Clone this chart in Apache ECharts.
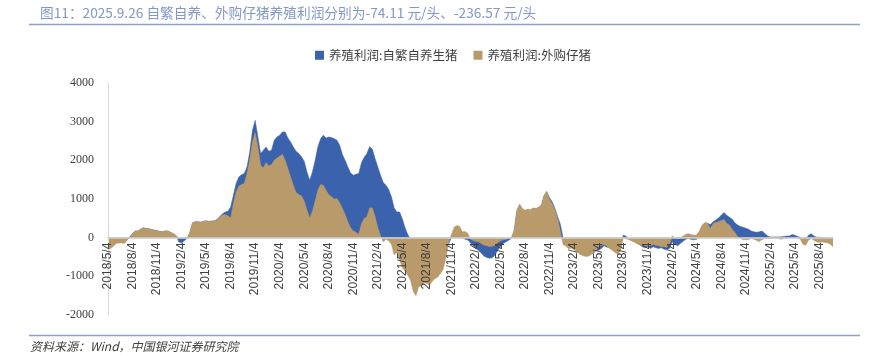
<!DOCTYPE html>
<html>
<head>
<meta charset="utf-8">
<script src="https://cdn.jsdelivr.net/npm/echarts@6/dist/echarts.min.js"></script>
<style>
html,body{margin:0;padding:0;background:#fff;}
#c{width:870px;height:356px;}
</style>
</head>
<body>
<div id="c"></div>
<script>
// Categories: three observation points per month (4th, 14th, 24th), 2018/5/4 .. 2025/9/24
const categories = [];
for (let y = 2018; y <= 2025; y++) {
  for (let m = 1; m <= 12; m++) {
    if (y === 2018 && m < 5) continue;
    if (y === 2025 && m > 9) break;
    for (const d of [4, 14, 24]) categories.push(y + '/' + m + '/' + d);
  }
}

const tickLabels = ['2018/5/4','2018/8/4','2018/11/4','2019/2/4','2019/5/4','2019/8/4','2019/11/4',
  '2020/2/4','2020/5/4','2020/8/4','2020/11/4','2021/2/4','2021/5/4','2021/8/4','2021/11/4',
  '2022/2/4','2022/5/4','2022/8/4','2022/11/4','2023/2/4','2023/5/4','2023/8/4','2023/11/4',
  '2024/2/4','2024/5/4','2024/8/4','2024/11/4','2025/2/4','2025/5/4','2025/8/4'];

const yTicks = [-2000, -1000, 0, 1000, 2000, 3000, 4000];

// 养殖利润:自繁自养生猪 (元/头)
const selfBred = [
-250,-220,-180,-120,-110,-110,-120,-50,20,
110,175,170,220,255,235,230,210,195,185,160,150,175,170,135,100,50,
-110,-140,-80,-20,120,
380,410,410,400,420,435,420,425,435,
470,545,620,665,685,795,1100,1400,1570,1630,1660,1830,2215,2775,3035,2605,2175,2260,2345,2235,2260,
2520,2605,2650,2735,2735,2580,2475,2345,2235,2175,2090,1975,1700,1485,1700,2000,2345,2560,2650,2580,
2605,2590,2560,2520,2390,2150,2000,1830,1675,1615,1640,1660,1940,2080,2175,2355,2285,2045,1830,1615,
1425,1355,1245,1055,770,665,665,480,255,80,
-50,-200,-300,-400,-450,-450,-500,-550,-500,-450,-420,-380,-300,-250,-160,
0,50,60,50,0,-40,-60,-135,-210,-280,-330,-400,-480,-510,-530,-520,-450,-325,-235,-150,-110,-65,-20,
150,690,850,740,700,725,710,760,745,780,830,1080,1190,1030,925,755,540,340,
-20,-100,-150,-180,-220,-260,-300,-330,-350,-370,-380,-410,-340,-325,-280,-210,-245,-250,-280,-320,-350,-300,
65,40,-30,-60,-90,-140,-180,-235,-260,-235,-280,-235,-260,-280,-260,-300,-315,-280,-110,-175,-210,-150,-90,-40,-20,-50,-50,-40,
150,300,380,370,340,410,460,510,580,650,580,530,480,385,330,290,270,245,220,175,150,140,150,170,110,45,20,20,20,20,25,30,40,45,80,65,30,10,
-50,-60,65,100,40,10,10,5,5,-30,-50,-74.11
];

// 养殖利润:外购仔猪 (元/头)
const purchased = [
-320,-280,-220,-150,-135,-135,-150,-65,20,
110,175,170,220,255,235,230,210,195,185,160,150,175,170,135,100,50,
-10,-20,-10,0,120,
380,410,410,400,420,435,420,425,435,
455,530,590,600,565,510,880,1185,1330,1375,1400,1660,2000,2475,2715,2345,1870,1805,1940,1855,1890,
2000,2060,2105,2155,2000,1785,1570,1355,1165,1115,1080,945,710,510,685,945,1225,1375,1355,1225,
1115,1055,995,1010,900,755,600,410,255,175,135,90,365,495,540,770,770,540,255,50,
-110,-40,-80,-175,-450,-385,-580,-780,-865,-970,
-1100,-1400,-1500,-1270,-1245,-1160,-1185,-1225,-1125,-1055,-1020,-925,-815,-520,-120,
80,270,315,295,150,160,110,-40,-75,-90,-110,-150,-195,-210,-235,-220,-195,-125,-80,-55,-40,-20,0,
195,710,865,755,710,735,720,770,755,790,840,1100,1200,990,880,710,495,150,
-185,-215,-290,-270,-315,-365,-425,-460,-480,-485,-450,-390,-325,-235,-195,-175,-220,-280,-325,-385,-425,-350,
-20,-30,-50,-80,-110,-150,-185,-200,-220,-210,-195,-175,-195,-210,-230,-235,-245,-175,50,-20,-30,0,45,90,100,80,65,75,
175,325,390,375,235,365,390,410,445,470,365,330,220,135,30,-20,-50,-55,-50,-20,-40,-75,-100,-50,-20,-20,-20,-10,-15,-25,-40,-25,-15,-5,10,5,-15,-40,
-175,-195,-65,-20,-65,-110,-125,-110,-125,-135,-170,-236.57
];

const chart = echarts.init(document.getElementById('c'), null, {renderer: 'canvas'});
const cjk = '"Noto Sans CJK SC", "Noto Sans", sans-serif';
const gridTop = 83, gridBottom = 41, H = 356;
const zeroOffset = -((H - gridBottom) - (gridTop + (H - gridTop - gridBottom) * 4 / 6));
chart.setOption({
  animation: false,
  backgroundColor: '#ffffff',
  graphic: [
    {type: 'text', left: 40, top: 6, style: {text: '图11：2025.9.26 自繁自养、外购仔猪养殖利润分别为-74.11 元/头、-236.57 元/头', fill: '#8398c6', font: '13.7px ' + cjk}},
    {type: 'line', shape: {x1: 29, y1: 24.5, x2: 860, y2: 24.5}, style: {stroke: '#8ea1ca', lineWidth: 1.5}},
    {type: 'line', shape: {x1: 29, y1: 335.5, x2: 860, y2: 335.5}, style: {stroke: '#8ea1ca', lineWidth: 1.5}},
    {type: 'text', left: 30, top: 340, style: {text: '资料来源：Wind，中国银河证券研究院', fill: '#404040', font: 'italic 12px ' + cjk}}
  ],
  legend: {
    left: 310, top: 44,
    itemWidth: 9, itemHeight: 9, itemGap: 16, icon: 'rect',
    textStyle: {fontSize: 12.5, color: '#404040', fontFamily: cjk},
    data: ['养殖利润:自繁自养生猪', '养殖利润:外购仔猪']
  },
  grid: {left: 108, right: 37, top: gridTop, bottom: gridBottom, containLabel: false, outerBoundsMode: 'none'},
  xAxis: {
    type: 'category',
    data: categories,
    boundaryGap: false,
    position: 'bottom',
    offset: zeroOffset,
    z: 10,
    axisLine: {onZero: false, lineStyle: {color: '#d0d0d0', width: 1.5}},
    axisTick: {show: false},
    axisLabel: {
      rotate: 90, margin: 5, fontSize: 12, color: '#404040', fontFamily: '"Liberation Sans", sans-serif',
      interval: (idx, val) => tickLabels.includes(val)
    },
    splitLine: {show: false}
  },
  yAxis: {
    type: 'value', min: -2000, max: 4000, interval: 1000,
    z: 10,
    axisLine: {show: true, lineStyle: {color: '#d9d9d9'}},
    axisTick: {show: false},
    splitLine: {show: false},
    axisLabel: {margin: 14, fontSize: 12, color: '#404040', fontFamily: '"Liberation Serif", serif',
      formatter: v => yTicks.includes(v) ? String(v) : ''}
  },
  series: [
    {name: '养殖利润:自繁自养生猪', type: 'line', data: selfBred, showSymbol: false, symbol: 'none',
     lineStyle: {width: 0.5, color: '#3b63ad'}, itemStyle: {color: '#3b63ad'},
     areaStyle: {color: '#3b63ad', opacity: 1, origin: 'auto'}, z: 2},
    {name: '养殖利润:外购仔猪', type: 'line', data: purchased, showSymbol: false, symbol: 'none',
     lineStyle: {width: 0.5, color: '#b99a6b'}, itemStyle: {color: '#b99a6b'},
     areaStyle: {color: '#b99a6b', opacity: 1, origin: 'auto'}, z: 3}
  ]
});
</script>
</body>
</html>
